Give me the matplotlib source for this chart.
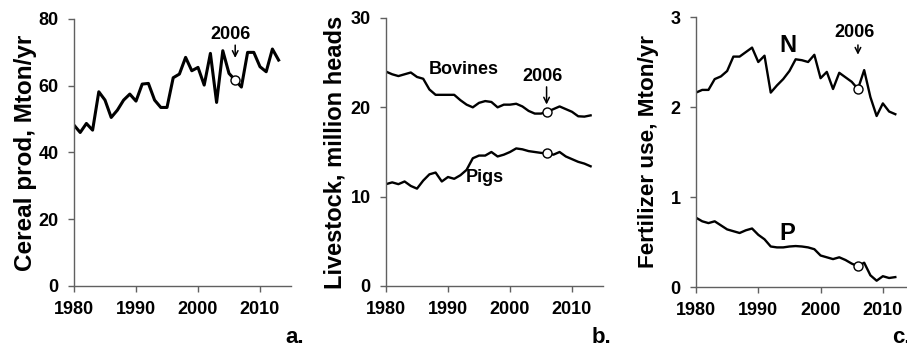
import numpy as np
import matplotlib
matplotlib.use('Agg')
import matplotlib.pyplot as plt

plt.rcParams['font.family'] = ['Liberation Sans', 'DejaVu Sans']
plt.rcParams['font.weight'] = 'bold'

years_a = list(range(1980, 2014))
cereal = [48.2, 46.0, 48.7, 46.7, 58.2, 55.7, 50.5, 52.7, 55.7, 57.5,
          55.4, 60.5, 60.7, 55.7, 53.5, 53.5, 62.4, 63.5, 68.5, 64.5,
          65.5, 60.2, 69.7, 55.0, 70.5, 63.7, 61.7, 59.6, 70.0, 70.0,
          65.7, 64.2, 71.0, 67.7]

years_b = list(range(1980, 2014))
bovines = [24.0, 23.7, 23.5, 23.7, 23.9, 23.4, 23.2, 22.0, 21.4, 21.4,
           21.4, 21.4, 20.8, 20.3, 20.0, 20.5, 20.7, 20.6, 20.0, 20.3,
           20.3, 20.4, 20.1, 19.6, 19.3, 19.3, 19.5, 19.8, 20.1, 19.8,
           19.5, 19.0, 18.96, 19.1]
pigs = [11.4, 11.6, 11.4, 11.7, 11.2, 10.9, 11.8, 12.5, 12.7, 11.7,
        12.2, 12.0, 12.4, 13.0, 14.3, 14.6, 14.6, 15.0, 14.5, 14.7,
        15.0, 15.4, 15.3, 15.1, 15.0, 14.9, 14.85, 14.7, 15.0, 14.5,
        14.2, 13.9, 13.7, 13.4]

years_c = list(range(1980, 2013))
fert_n = [2.16, 2.19, 2.19, 2.31, 2.34, 2.40, 2.56, 2.56, 2.61, 2.66,
          2.50, 2.57, 2.16, 2.24, 2.31, 2.40, 2.53, 2.52, 2.50, 2.58,
          2.32, 2.39, 2.20, 2.38, 2.33, 2.28, 2.20, 2.41, 2.11, 1.90,
          2.04, 1.95, 1.92]
fert_p = [0.77, 0.73, 0.71, 0.73, 0.685, 0.64, 0.62, 0.60, 0.63, 0.65,
          0.58, 0.53, 0.45, 0.44, 0.44, 0.45, 0.455, 0.45, 0.44, 0.42,
          0.35, 0.33, 0.31, 0.33, 0.30, 0.26, 0.23, 0.27, 0.13, 0.07,
          0.12, 0.10, 0.11]

mark_year = 2006
x_ticks = [1980, 1990, 2000, 2010]

W, H = 907, 348
fig = plt.figure(figsize=(W / 100, H / 100), dpi=100)


def px_axes(left, right, bottom, top):
    return fig.add_axes([left / W, (H - bottom) / H, (right - left) / W, (bottom - top) / H])


def style(ax, ymax, yticks, ylabel, lsize, lpad):
    ax.set_xlim(1980, 2015)
    ax.set_ylim(0, ymax)
    ax.set_xticks(x_ticks)
    ax.set_yticks(yticks)
    for s in ['top', 'right']:
        ax.spines[s].set_visible(False)
    for s in ['left', 'bottom']:
        ax.spines[s].set_color('#606060')
        ax.spines[s].set_linewidth(1.0)
    ax.tick_params(direction='out', length=4, width=1, color='#606060',
                   labelsize=13, pad=7)
    for lab in ax.get_xticklabels() + ax.get_yticklabels():
        lab.set_fontweight('bold')
    ax.set_ylabel(ylabel, fontsize=lsize, fontweight='bold', labelpad=lpad)


def mark(ax, x, y):
    ax.plot([x], [y], 'o', ms=6.5, mfc='white', mec='black', mew=1.0, zorder=5)


def arrow(ax, x, ytop, ybot):
    ax.annotate('', xy=(x, ybot), xytext=(x, ytop),
                arrowprops=dict(arrowstyle='->', lw=1.1, color='black'))


# a. cereal
ax1 = px_axes(74, 291, 286, 19)
ax1.plot(years_a, cereal, color='black', lw=2.2)
style(ax1, 80, [0, 20, 40, 60, 80], 'Cereal prod, Mton/yr', 17.5, 1)
i = years_a.index(mark_year)
mark(ax1, mark_year, cereal[i])
ax1.text(2005.2, 75.5, '2006', ha='center', va='center', fontsize=13, fontweight='bold')
arrow(ax1, 2006, 73, 67.5)

# b. livestock
ax2 = px_axes(386, 603, 286, 18)
ax2.plot(years_b, bovines, color='black', lw=1.7)
ax2.plot(years_b, pigs, color='black', lw=1.7)
style(ax2, 30, [0, 10, 20, 30], 'Livestock, million heads', 17, 3)
i = years_b.index(mark_year)
mark(ax2, mark_year, bovines[i])
mark(ax2, mark_year, pigs[i])
ax2.text(2005.3, 23.4, '2006', ha='center', va='center', fontsize=13, fontweight='bold')
arrow(ax2, 2005.9, 22.6, 20.0)
ax2.text(1992.5, 24.2, 'Bovines', ha='center', va='center', fontsize=13, fontweight='bold')
ax2.text(1996.0, 12.1, 'Pigs', ha='center', va='center', fontsize=13, fontweight='bold')

# c. fertilizer
ax3 = px_axes(696, 914, 287, 17)
ax3.plot(years_c, fert_n, color='black', lw=1.7)
ax3.plot(years_c, fert_p, color='black', lw=1.7)
style(ax3, 3, [0, 1, 2, 3], 'Fertilizer use, Mton/yr', 16.2, 8)
i = years_c.index(mark_year)
mark(ax3, mark_year, fert_n[i])
mark(ax3, mark_year, fert_p[i])
ax3.text(2005.4, 2.83, '2006', ha='center', va='center', fontsize=13, fontweight='bold')
arrow(ax3, 2006, 2.72, 2.55)
ax3.text(1994.7, 2.68, 'N', ha='center', va='center', fontsize=17, fontweight='bold')
ax3.text(1994.7, 0.6, 'P', ha='center', va='center', fontsize=17, fontweight='bold')

for x, t in [(285, 'a.'), (592, 'b.'), (892, 'c.')]:
    fig.text(x / W, (H - 343) / H, t, ha='left', va='baseline', fontsize=16, fontweight='bold')

fig.savefig('out.png', dpi=100)
